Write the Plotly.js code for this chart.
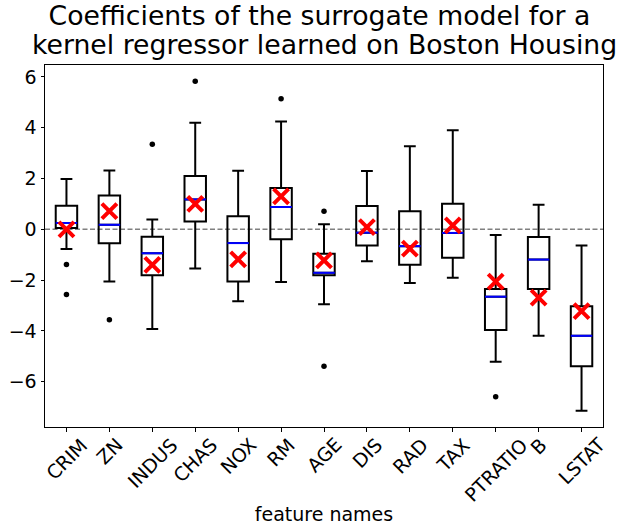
<!DOCTYPE html>
<html>
<head>
<meta charset="utf-8">
<script src="https://cdn.plot.ly/plotly-3.0.1.min.js"></script>
<style>html,body{margin:0;padding:0;background:#fff;}#chart{width:618px;height:525px;}</style>
</head>
<body>
<div id="chart"></div>
<script>
const features = ['CRIM','ZN','INDUS','CHAS','NOX','RM','AGE','DIS','RAD','TAX','PTRATIO','B','LSTAT'];
const lowerWhisker = [-0.77,-2.05,-3.92,-1.54,-2.83,-2.07,-2.95,-1.26,-2.11,-1.90,-5.21,-4.19,-7.14];
const q1 = [0.05,-0.55,-1.81,0.31,-2.05,-0.39,-1.81,-0.64,-1.39,-1.12,-3.96,-2.35,-5.39];
const median = [0.25,0.18,-0.94,1.18,-0.54,0.88,-1.71,-0.13,-0.66,-0.14,-2.65,-1.19,-4.19];
const q3 = [0.93,1.33,-0.29,2.10,0.52,1.63,-0.96,0.92,0.71,1.01,-2.35,-0.30,-3.03];
const upperWhisker = [1.98,2.32,0.39,4.20,2.31,4.25,0.20,2.30,3.27,3.90,-0.22,0.97,-0.64];
const surrogateCoef = [0.00,0.72,-1.40,1.00,-1.18,1.30,-1.22,0.09,-0.76,0.16,-2.06,-2.69,-3.22];
const outlierFeature = ['CRIM','CRIM','ZN','INDUS','CHAS','RM','AGE','AGE','PTRATIO'];
const outlierValue = [-1.38,-2.56,-3.56,3.35,5.83,5.14,0.71,-5.39,-6.59];
const titleLines = ['Coefficients of the surrogate model for a', 'kernel regressor learned on Boston Housing'];

const pos = features.map((f, i) => i + 1);
const posOf = f => features.indexOf(f) + 1;
const halfW = 0.25;

const medX = [], medY = [];
pos.forEach((p, i) => { medX.push(p - halfW, p + halfW, null); medY.push(median[i], median[i], null); });

const font = 'DejaVu Sans, sans-serif';

const traces = [
  {
    type: 'box', x: pos, q1: q1, median: median, q3: q3,
    lowerfence: lowerWhisker, upperfence: upperWhisker,
    width: 0.5, whiskerwidth: 0.55, boxpoints: false,
    fillcolor: 'rgba(0,0,0,0)', line: {color: '#000', width: 2},
    hoverinfo: 'skip', showlegend: false
  },
  {
    type: 'scatter', mode: 'lines', x: medX, y: medY,
    line: {color: '#0000ff', width: 2}, hoverinfo: 'skip', showlegend: false
  },
  {
    type: 'scatter', mode: 'markers', x: outlierFeature.map(posOf), y: outlierValue,
    marker: {color: '#000', size: 5.5, symbol: 'circle'}, hoverinfo: 'skip', showlegend: false
  },
  {
    type: 'scatter', mode: 'markers', x: pos, y: surrogateCoef,
    marker: {symbol: 'x-thin', size: 15, line: {color: '#ff0000', width: 4}},
    hoverinfo: 'skip', showlegend: false
  }
];

const annotations = features.map((f, i) => ({
  text: f, x: pos[i], xref: 'x', y: 0, yref: 'paper',
  xanchor: 'center', yanchor: 'top', yshift: -4, textangle: -45,
  showarrow: false, font: {family: font, size: 19, color: '#000'}
}));
annotations.push({
  text: titleLines[1], xref: 'paper', x: 0.5, xanchor: 'center',
  yref: 'paper', y: 1, yanchor: 'bottom', yshift: 3,
  showarrow: false, font: {family: font, size: 26.7, color: '#000'}
});

const layout = {
  width: 618, height: 525,
  margin: {l: 45, r: 15, t: 65, b: 98},
  paper_bgcolor: '#fff', plot_bgcolor: '#fff',
  title: {
    text: titleLines[0],
    font: {family: font, size: 26.7, color: '#000'},
    x: 0.517, xanchor: 'center', xref: 'container',
    y: 0.9886, yanchor: 'top', yref: 'container'
  },
  xaxis: {
    range: [0.5, 13.5], tickvals: pos, showticklabels: false,
    ticks: 'outside', ticklen: 3.5, tickcolor: '#000', tickwidth: 1,
    showline: true, mirror: true, linecolor: '#000', linewidth: 1,
    showgrid: false, zeroline: false,
    title: {text: 'feature names', font: {family: font, size: 19, color: '#000'}, standoff: 79}
  },
  yaxis: {
    range: [-7.78, 6.47], tickvals: [-6,-4,-2,0,2,4,6],
    ticks: 'outside', ticklen: 3.5, tickcolor: '#000', tickwidth: 1,
    tickfont: {family: font, size: 19, color: '#000'},
    showline: true, mirror: true, linecolor: '#000', linewidth: 1,
    showgrid: false, zeroline: false
  },
  shapes: [{
    type: 'line', xref: 'paper', x0: 0, x1: 1, yref: 'y', y0: 0, y1: 0,
    line: {color: '#808080', width: 1.5, dash: '5px,2.5px'}, layer: 'below'
  }],
  annotations: annotations,
  showlegend: false
};

Plotly.newPlot('chart', traces, layout, {staticPlot: true, displayModeBar: false});
</script>
</body>
</html>
